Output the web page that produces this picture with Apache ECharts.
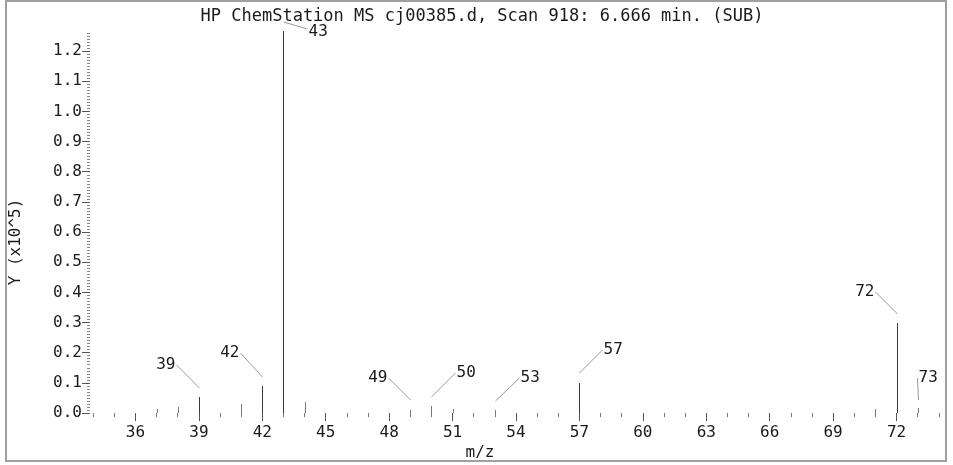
<!DOCTYPE html>
<html>
<head>
<meta charset="utf-8">
<script src="https://cdn.jsdelivr.net/npm/echarts@6/dist/echarts.min.js"></script>
<style>html,body{margin:0;padding:0;background:#fff}#c{width:953px;height:465px}</style>
</head>
<body>
<div id="c"></div>
<script>
// ---- data (abundance in units of 10^5) ----
const titleText = 'HP ChemStation MS cj00385.d, Scan 918: 6.666 min. (SUB)';
const mz = [37, 38, 39, 41, 42, 43, 44, 49, 50, 51, 53, 57, 71, 72, 73];
const abundance = [0.013, 0.02, 0.053, 0.03, 0.09, 1.267, 0.036, 0.01, 0.023, 0.013, 0.01, 0.10, 0.013, 0.298, 0.017];
const labeledMz = [39, 42, 43, 49, 50, 53, 57, 72, 73];
const xMajorTicks = [36, 39, 42, 45, 48, 51, 54, 57, 60, 63, 66, 69, 72];
const yMajorTicks = [0, 0.1, 0.2, 0.3, 0.4, 0.5, 0.6, 0.7, 0.8, 0.9, 1.0, 1.1, 1.2];
const xAxisName = 'm/z';
const yAxisName = 'Y (x10^5)';

// minor tick positions
const xMinorTicks = [];
for (let m = 34; m <= 74; m++) xMinorTicks.push(m);
const yMinorTicks = [];
for (let k = 0; k <= 126; k++) yMinorTicks.push(+(k / 100).toFixed(2));

// ---- styling / layout (not data) ----
const FONT = '"DejaVu Sans Mono", "Liberation Mono", monospace';
const TXT = '#1a1a1a';
// leader layout: [startDy, endDx, endDy, textAlign]
const leaderLayout = {
  39: [-9, -23, -32, 'right'],
  42: [-9, -22, -33, 'right'],
  43: [-9, 24, -2, 'left'],
  49: [-10, -22, -32, 'right'],
  50: [-9, 24, -33, 'left'],
  53: [-9, 24, -32, 'left'],
  57: [-10, 23, -33, 'left'],
  72: [-9, -22, -31, 'right'],
  73: [-8, -1, -30, 'left']
};

const X_MIN = 33.85, X_MAX = 74.15, Y_MAX = 1.27;

const chart = echarts.init(document.getElementById('c'), null, {renderer: 'canvas'});

const seriesData = mz.map((m, i) => [m, abundance[i]]);

function renderItem(params, api) {
  const m = api.value(0), v = api.value(1);
  const top = api.coord([m, v]);
  const base = api.coord([m, 0]);
  const x = Math.round(top[0]) + 0.5;
  const ty = Math.round(top[1]);
  const children = [{
    type: 'line',
    shape: {x1: x, y1: base[1], x2: x, y2: ty},
    style: {stroke: v > 0.04 ? '#3a3a3a' : '#7a7a7a', lineWidth: 1}
  }];
  if (labeledMz.indexOf(m) >= 0 && leaderLayout[m]) {
    const L = leaderLayout[m];
    const sx = x, sy = ty + L[0];
    const ex = x + L[1], ey = ty + L[2];
    children.push({
      type: 'line',
      shape: {x1: sx, y1: sy, x2: ex, y2: ey},
      style: {stroke: '#9a9a9a', lineWidth: 1}
    });
    children.push({
      type: 'text',
      x: ex + (L[3] === 'right' ? -1 : 1),
      y: ey + (m === 43 ? 3 : 0),
      style: {
        text: String(m),
        fill: TXT,
        font: '16px ' + FONT,
        align: L[3],
        verticalAlign: 'middle'
      }
    });
  }
  return {type: 'group', children: children};
}

const option = {
  backgroundColor: '#ffffff',
  animation: false,
  title: {
    text: titleText,
    left: 477,
    textAlign: 'center',
    top: 3,
    textStyle: {fontFamily: FONT, fontSize: 17, fontWeight: 'normal', color: TXT}
  },
  grid: {left: 90, right: 11, top: 30, bottom: 52, containLabel: false},
  xAxis: [{
    type: 'value', min: X_MIN, max: X_MAX, position: 'bottom',
    axisLine: {show: false}, splitLine: {show: false},
    axisTick: {show: true, customValues: xMinorTicks, length: 4, lineStyle: {color: '#777'}},
    axisLabel: {show: false}
  }, {
    type: 'value', min: X_MIN, max: X_MAX, position: 'bottom',
    axisLine: {show: false}, splitLine: {show: false},
    axisTick: {show: true, customValues: xMajorTicks, length: 8, lineStyle: {color: '#555'}},
    axisLabel: {show: true, customValues: xMajorTicks, margin: 12, color: TXT, fontFamily: FONT, fontSize: 16}
  }],
  yAxis: [{
    type: 'value', min: 0, max: Y_MAX, position: 'left',
    axisLine: {show: false}, splitLine: {show: false},
    axisTick: {show: true, customValues: yMinorTicks, length: 3, lineStyle: {color: '#888'}},
    axisLabel: {show: false}
  }, {
    type: 'value', min: 0, max: Y_MAX, position: 'left',
    axisLine: {show: false}, splitLine: {show: false},
    axisTick: {show: true, customValues: yMajorTicks, length: 8, lineStyle: {color: '#555'}},
    axisLabel: {show: true, customValues: yMajorTicks, margin: 8, color: TXT, fontFamily: FONT, fontSize: 16,
      formatter: v => Number(v).toFixed(1)}
  }],
  graphic: [
    {type: 'rect', shape: {x: 6, y: 1, width: 940, height: 460}, style: {fill: 'none', stroke: '#a0a0a0', lineWidth: 2}, silent: true},
    {type: 'text', x: 480, y: 453, style: {text: xAxisName, font: '16px ' + FONT, fill: TXT, align: 'center', verticalAlign: 'middle'}},
    {type: 'text', x: 16, y: 242, rotation: Math.PI / 2, style: {text: yAxisName, font: '16px ' + FONT, fill: TXT, align: 'center', verticalAlign: 'middle'}}
  ],
  series: [{
    type: 'custom',
    xAxisIndex: 0, yAxisIndex: 0,
    renderItem: renderItem,
    encode: {x: 0, y: 1},
    data: seriesData,
    clip: false
  }]
};
chart.setOption(option);
</script>
</body>
</html>
